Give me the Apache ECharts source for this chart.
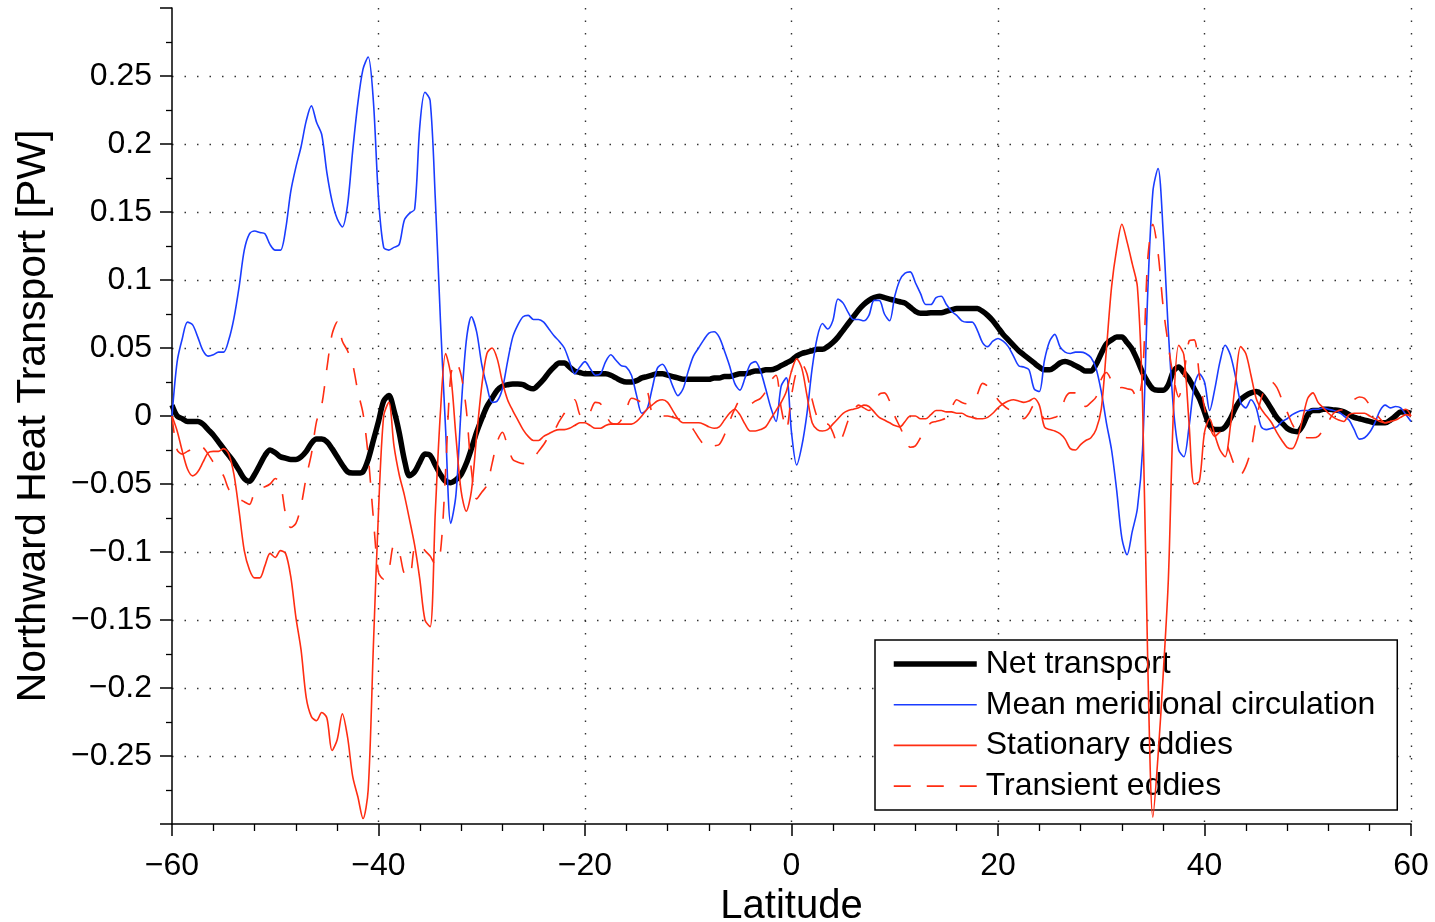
<!DOCTYPE html>
<html>
<head>
<meta charset="utf-8">
<title>Northward Heat Transport</title>
<script src="https://cdn.jsdelivr.net/npm/echarts@6/dist/echarts.min.js"></script>
<style>
  html, body { margin: 0; padding: 0; background: #fff; width: 100%; height: 100%; overflow: hidden; }
  #chart { width: 1435px; height: 922px; }
</style>
</head>
<body>
<div id="chart"></div>
<script>
// Latitude grid: -60 to 60 in 0.5 degree steps (241 points)
const latStart = -60;
const latStep = 0.5;
const latCount = 241;

// Net transport [PW]
const netTransport = [
  0.008, 0.000, -0.002, -0.004, -0.004, -0.004, -0.006, -0.010, -0.014, -0.019,
  -0.024, -0.029, -0.034, -0.040, -0.046, -0.048, -0.043, -0.036, -0.029, -0.025,
  -0.027, -0.030, -0.031, -0.032, -0.032, -0.030, -0.026, -0.020, -0.017, -0.017,
  -0.019, -0.024, -0.030, -0.036, -0.041, -0.042, -0.042, -0.041, -0.032, -0.018,
  -0.004, 0.011, 0.015, 0.004, -0.012, -0.032, -0.044, -0.041, -0.034, -0.028,
  -0.029, -0.036, -0.043, -0.048, -0.049, -0.047, -0.043, -0.035, -0.024, -0.012,
  -0.002, 0.007, 0.013, 0.019, 0.022, 0.023, 0.0235, 0.0235, 0.023, 0.021,
  0.020, 0.023, 0.027, 0.032, 0.036, 0.039, 0.039, 0.036, 0.033, 0.032,
  0.031, 0.031, 0.031, 0.031, 0.031, 0.030, 0.028, 0.026, 0.025, 0.025,
  0.026, 0.028, 0.029, 0.030, 0.031, 0.031, 0.030, 0.029, 0.028, 0.027,
  0.027, 0.027, 0.027, 0.027, 0.027, 0.028, 0.028, 0.029, 0.029, 0.030,
  0.031, 0.031, 0.032, 0.033, 0.033, 0.034, 0.034, 0.035, 0.037, 0.039,
  0.041, 0.044, 0.046, 0.047, 0.048, 0.049, 0.049, 0.051, 0.054, 0.058,
  0.063, 0.068, 0.073, 0.078, 0.082, 0.085, 0.087, 0.088, 0.087, 0.086,
  0.085, 0.084, 0.083, 0.080, 0.077, 0.0755, 0.0755, 0.076, 0.076, 0.076,
  0.077, 0.078, 0.079, 0.079, 0.079, 0.079, 0.079, 0.077, 0.074, 0.070,
  0.065, 0.060, 0.056, 0.052, 0.048, 0.045, 0.042, 0.039, 0.036, 0.034,
  0.034, 0.036, 0.039, 0.040, 0.039, 0.037, 0.035, 0.033, 0.033, 0.038,
  0.046, 0.053, 0.056, 0.058, 0.058, 0.054, 0.049, 0.041, 0.032, 0.025,
  0.020, 0.019, 0.019, 0.023, 0.033, 0.036, 0.032, 0.027, 0.020, 0.013,
  0.003, -0.007, -0.010, -0.010, -0.008, -0.002, 0.006, 0.012, 0.015, 0.017,
  0.018, 0.016, 0.011, 0.005, -0.001, -0.005, -0.009, -0.011, -0.0115, -0.007,
  0.001, 0.004, 0.004, 0.005, 0.005, 0.0045, 0.004, 0.003, 0.001, -0.001,
  -0.002, -0.003, -0.004, -0.005, -0.005, -0.005, -0.003, 0.000, 0.003, 0.003,
  0.002
];

// Mean meridional circulation [PW]
const meanMeridional = [
  0.000, 0.040, 0.057, 0.069, 0.067, 0.058, 0.048, 0.044, 0.045, 0.047,
  0.047, 0.056, 0.072, 0.095, 0.122, 0.134, 0.136, 0.135, 0.134, 0.126,
  0.122, 0.122, 0.137, 0.165, 0.183, 0.198, 0.217, 0.228, 0.216, 0.207,
  0.179, 0.158, 0.145, 0.139, 0.155, 0.195, 0.230, 0.255, 0.264, 0.232,
  0.160, 0.124, 0.122, 0.124, 0.126, 0.144, 0.149, 0.152, 0.213, 0.238,
  0.232, 0.160, 0.070, -0.010, -0.079, -0.058, 0.005, 0.055, 0.073, 0.062,
  0.038, 0.022, 0.010, 0.011, 0.020, 0.040, 0.058, 0.067, 0.073, 0.074,
  0.071, 0.071, 0.069, 0.064, 0.059, 0.055, 0.050, 0.040, 0.031, 0.036,
  0.040, 0.035, 0.030, 0.031, 0.040, 0.045, 0.041, 0.037, 0.036, 0.030,
  0.015, 0.002, 0.005, 0.020, 0.035, 0.038, 0.032, 0.022, 0.015, 0.020,
  0.033, 0.044, 0.050, 0.056, 0.061, 0.062, 0.058, 0.048, 0.037, 0.024,
  0.019, 0.028, 0.038, 0.040, 0.033, 0.020, 0.006, -0.004, 0.022, 0.028,
  -0.012, -0.036, -0.022, 0.002, 0.035, 0.058, 0.068, 0.064, 0.070, 0.086,
  0.083, 0.076, 0.071, 0.071, 0.070, 0.074, 0.085, 0.085, 0.075, 0.070,
  0.088, 0.100, 0.105, 0.106, 0.098, 0.090, 0.082, 0.082, 0.087, 0.088,
  0.082, 0.077, 0.074, 0.070, 0.069, 0.069, 0.063, 0.054, 0.051, 0.055,
  0.057, 0.055, 0.051, 0.044, 0.037, 0.036, 0.034, 0.020, 0.018, 0.041,
  0.055, 0.060, 0.051, 0.047, 0.046, 0.047, 0.047, 0.046, 0.043, 0.035,
  0.018, -0.005, -0.025, -0.055, -0.090, -0.102, -0.085, -0.068, -0.025, 0.090,
  0.165, 0.182, 0.135, 0.062, 0.005, -0.025, -0.030, -0.008, 0.022, 0.031,
  0.025, 0.004, 0.020, 0.040, 0.052, 0.045, 0.029, 0.010, 0.006, 0.012,
  0.006, -0.008, -0.010, -0.009, -0.008, -0.004, -0.002, 0.001, 0.003, 0.004,
  0.004, 0.005, 0.005, 0.006, 0.005, 0.004, 0.003, 0.000, -0.003, -0.010,
  -0.017, -0.016, -0.012, -0.005, 0.004, 0.008, 0.006, 0.007, 0.006, 0.001,
  -0.004
];

// Stationary eddies [PW]
const stationaryEddies = [
  0.000, -0.011, -0.026, -0.039, -0.044, -0.041, -0.034, -0.027, -0.026, -0.026,
  -0.024, -0.028, -0.043, -0.070, -0.099, -0.113, -0.119, -0.119, -0.110, -0.101,
  -0.104, -0.099, -0.101, -0.118, -0.148, -0.172, -0.207, -0.221, -0.224, -0.218,
  -0.222, -0.246, -0.238, -0.219, -0.236, -0.265, -0.280, -0.296, -0.275, -0.170,
  -0.070, 0.000, 0.010, -0.022, -0.043, -0.058, -0.076, -0.095, -0.120, -0.150,
  -0.155, -0.071, 0.003, 0.046, 0.030, -0.015, -0.055, -0.070, -0.055, -0.015,
  0.022, 0.046, 0.050, 0.042, 0.025, 0.012, 0.004, -0.003, -0.010, -0.015,
  -0.018, -0.018, -0.015, -0.013, -0.011, -0.010, -0.010, -0.009, -0.007, -0.005,
  -0.005, -0.007, -0.009, -0.009, -0.007, -0.006, -0.006, -0.006, -0.006, -0.006,
  -0.004, 0.000, 0.005, 0.008, 0.011, 0.012, 0.010, 0.004, -0.002, -0.005,
  -0.005, -0.005, -0.005, -0.006, -0.008, -0.009, -0.008, -0.003, 0.002, 0.005,
  0.001, -0.006, -0.011, -0.011, -0.010, -0.008, -0.002, 0.004, 0.010, 0.018,
  0.033, 0.042, 0.035, 0.015, -0.005, -0.010, -0.011, -0.010, -0.006, -0.002,
  0.002, 0.004, 0.005, 0.006, 0.008, 0.007, 0.003, -0.001, -0.003, -0.005,
  -0.007, -0.008, -0.004, 0.000, 0.000, -0.002, -0.002, 0.001, 0.004, 0.004,
  0.003, 0.003, 0.002, 0.002, 0.000, -0.001, -0.002, -0.002, -0.001, 0.002,
  0.006, 0.009, 0.011, 0.012, 0.011, 0.010, 0.011, 0.013, 0.008, -0.008,
  -0.010, -0.011, -0.013, -0.017, -0.024, -0.025, -0.021, -0.018, -0.016, -0.010,
  0.005, 0.049, 0.095, 0.123, 0.141, 0.128, 0.112, 0.095, 0.010, -0.180,
  -0.295, -0.250, -0.190, -0.120, 0.005, 0.052, 0.045, -0.005, -0.050, -0.048,
  -0.012, -0.002, -0.014, -0.025, -0.030, -0.008, 0.025, 0.051, 0.046, 0.030,
  0.013, 0.005, 0.000, -0.005, -0.012, -0.018, -0.023, -0.024, -0.017, -0.002,
  0.013, 0.017, 0.010, 0.006, 0.002, -0.001, -0.003, -0.004, 0.001, 0.002,
  0.002, 0.002, 0.000, -0.002, -0.004, -0.005, -0.004, -0.003, -0.001, 0.001,
  0.000
];

// Transient eddies [PW]
const transientEddies = [
  0.000, -0.025, -0.028, -0.026, -0.024, -0.021, -0.023, -0.028, -0.034, -0.039,
  -0.044, -0.054, -0.058, -0.061, -0.063, -0.065, -0.056, -0.053, -0.052, -0.050,
  -0.046, -0.050, -0.072, -0.082, -0.079, -0.066, -0.045, -0.028, -0.004, 0.008,
  0.035, 0.060, 0.069, 0.055, 0.048, 0.038, 0.018, 0.002, -0.029, -0.075,
  -0.115, -0.120, -0.113, -0.095, -0.100, -0.116, -0.118, -0.096, -0.095, -0.099,
  -0.103, -0.109, -0.100, -0.040, 0.030, 0.040, 0.030, 0.005, -0.040, -0.061,
  -0.056, -0.051, -0.035, -0.019, -0.012, -0.022, -0.032, -0.034, -0.035, -0.034,
  -0.031, -0.026, -0.021, -0.015, -0.011, -0.004, 0.002, 0.008, 0.012, 0.001,
  -0.002, 0.003, 0.010, 0.009, 0.001, -0.005, -0.006, -0.003, 0.005, 0.013,
  0.012, 0.010, 0.018, 0.002, 0.000, 0.000, 0.000, -0.001, -0.002, -0.003,
  -0.005, -0.010, -0.016, -0.021, -0.024, -0.022, -0.021, -0.014, -0.004, 0.005,
  0.011, 0.011, 0.009, 0.011, 0.013, 0.018, 0.026, 0.030, 0.006, -0.010,
  0.015, 0.033, 0.038, 0.031, 0.012, -0.001, -0.006, -0.006, -0.012, -0.021,
  -0.014, -0.003, 0.004, 0.008, 0.006, 0.004, 0.008, 0.016, 0.017, 0.011,
  0.000, -0.008, -0.016, -0.023, -0.022, -0.016, -0.010, -0.005, -0.004, -0.003,
  -0.001, 0.006, 0.012, 0.010, 0.009, 0.010, 0.016, 0.024, 0.022, 0.018,
  0.012, 0.008, 0.005, 0.003, 0.001, -0.002, 0.002, 0.008, 0.005, -0.002,
  -0.002, -0.001, 0.001, 0.013, 0.017, 0.017, 0.010, 0.007, 0.010, 0.014,
  0.027, 0.032, 0.026, 0.020, 0.021, 0.020, 0.019, 0.012, 0.030, 0.115,
  0.141, 0.120, 0.080, 0.052, 0.028, 0.014, 0.030, 0.055, 0.056, 0.030,
  0.006, -0.008, -0.015, -0.012, -0.018, -0.028, -0.038, -0.043, -0.037, -0.025,
  -0.003, 0.013, 0.022, 0.025, 0.021, 0.012, 0.003, -0.006, -0.012, -0.015,
  -0.016, -0.016, -0.015, -0.010, -0.004, 0.002, 0.004, 0.005, 0.008, 0.012,
  0.014, 0.013, 0.008, 0.003, -0.002, -0.005, -0.004, -0.002, 0.003, 0.005,
  0.000
];

const seriesNames = ['Net transport', 'Mean meridional circulation', 'Stationary eddies', 'Transient eddies'];

// Tick labels
const xTickValues = [-60, -40, -20, 0, 20, 40, 60];
const xTickLabels = ['\u221260', '\u221240', '\u221220', '0', '20', '40', '60'];
const yTickValues = [-0.25, -0.2, -0.15, -0.1, -0.05, 0, 0.05, 0.1, 0.15, 0.2, 0.25];
const yTickLabels = ['\u22120.25', '\u22120.2', '\u22120.15', '\u22120.1', '\u22120.05', '0', '0.05', '0.1', '0.15', '0.2', '0.25'];

const latitudes = [];
for (let i = 0; i < latCount; i++) latitudes.push(latStart + i * latStep);

function pairs(values) {
  return values.map((v, i) => [latitudes[i], v]);
}

function tickLabel(values, labels) {
  return function (v) {
    const i = values.findIndex(t => Math.abs(t - v) < 1e-9);
    return i < 0 ? '' : labels[i];
  };
}

const FONT = 'Liberation Sans, Arial, Helvetica, sans-serif';
const BLUE = '#1a3cff';
const RED = '#ff2d12';

const gridLine = { color: '#333', width: 1.4, type: [1.5, 11] };

const chart = echarts.init(document.getElementById('chart'), null, { renderer: 'canvas' });

chart.setOption({
  animation: false,
  backgroundColor: '#fff',
  textStyle: { fontFamily: FONT },
  grid: { left: 172, right: 24, top: 8, bottom: 98, containLabel: false, outerBoundsMode: 'none' },
  xAxis: {
    type: 'value',
    min: -60,
    max: 60,
    interval: 20,
    name: 'Latitude',
    nameLocation: 'middle',
    nameGap: 58,
    nameTextStyle: { fontSize: 40, color: '#000', fontFamily: FONT },
    axisLine: { show: true, onZero: false, lineStyle: { color: '#000', width: 1.5 } },
    axisTick: { show: true, inside: false, length: 12, lineStyle: { color: '#000', width: 1.5 } },
    minorTick: { show: true, splitNumber: 5, length: 7, lineStyle: { color: '#000', width: 1.3 } },
    axisLabel: {
      show: true, margin: 26, fontSize: 32, color: '#000', fontFamily: FONT,
      formatter: tickLabel(xTickValues, xTickLabels)
    },
    splitLine: { show: true, showMinLine: false, lineStyle: gridLine },
    minorSplitLine: { show: false }
  },
  yAxis: {
    type: 'value',
    min: -0.3,
    max: 0.3,
    interval: 0.05,
    name: 'Northward Heat Transport [PW]',
    nameLocation: 'middle',
    nameGap: 118,
    nameTextStyle: { fontSize: 41, color: '#000', fontFamily: FONT },
    axisLine: { show: true, onZero: false, lineStyle: { color: '#000', width: 1.5 } },
    axisTick: { show: true, inside: false, length: 12, lineStyle: { color: '#000', width: 1.5 } },
    minorTick: { show: true, splitNumber: 2, length: 6, lineStyle: { color: '#000', width: 1.3 } },
    axisLabel: {
      show: true, margin: 20, fontSize: 32, color: '#000', fontFamily: FONT,
      formatter: tickLabel(yTickValues, yTickLabels)
    },
    splitLine: { show: true, showMinLine: false, showMaxLine: false, lineStyle: gridLine },
    minorSplitLine: { show: false }
  },
  legend: {
    show: true,
    data: seriesNames,
    orient: 'vertical',
    left: 875,
    top: 640,
    padding: [8, 22, 8, 16],
    itemWidth: 83,
    itemHeight: 14,
    itemGap: 8.7,
    backgroundColor: '#fff',
    borderColor: '#000',
    borderWidth: 1.5,
    borderRadius: 0,
    selectedMode: false,
    // line samples only, no marker in the middle
    itemStyle: { color: 'rgba(0,0,0,0)', borderColor: 'rgba(0,0,0,0)', borderWidth: 0 },
    lineStyle: { width: 'inherit', type: 'inherit', color: 'inherit' },
    textStyle: { fontSize: 32, color: '#000', fontFamily: FONT, padding: [0, 0, 0, 4] }
  },
  series: [
    {
      name: seriesNames[0],
      type: 'line',
      data: pairs(netTransport),
      smooth: 0.3,
      showSymbol: false,
      symbol: 'none',
      clip: true,
      color: '#000',
      lineStyle: { color: '#000', width: 5.5, cap: 'butt', join: 'round' },
      z: 2
    },
    {
      name: seriesNames[1],
      type: 'line',
      data: pairs(meanMeridional),
      smooth: 0.3,
      showSymbol: false,
      symbol: 'none',
      clip: true,
      color: BLUE,
      lineStyle: { color: BLUE, width: 1.6 },
      z: 3
    },
    {
      name: seriesNames[2],
      type: 'line',
      data: pairs(stationaryEddies),
      smooth: 0.3,
      showSymbol: false,
      symbol: 'none',
      clip: true,
      color: RED,
      lineStyle: { color: RED, width: 1.6 },
      z: 4
    },
    {
      name: seriesNames[3],
      type: 'line',
      data: pairs(transientEddies),
      smooth: 0.3,
      showSymbol: false,
      symbol: 'none',
      clip: true,
      color: RED,
      lineStyle: { color: RED, width: 1.6, type: [17, 16] },
      z: 5
    }
  ]
});
</script>
</body>
</html>
